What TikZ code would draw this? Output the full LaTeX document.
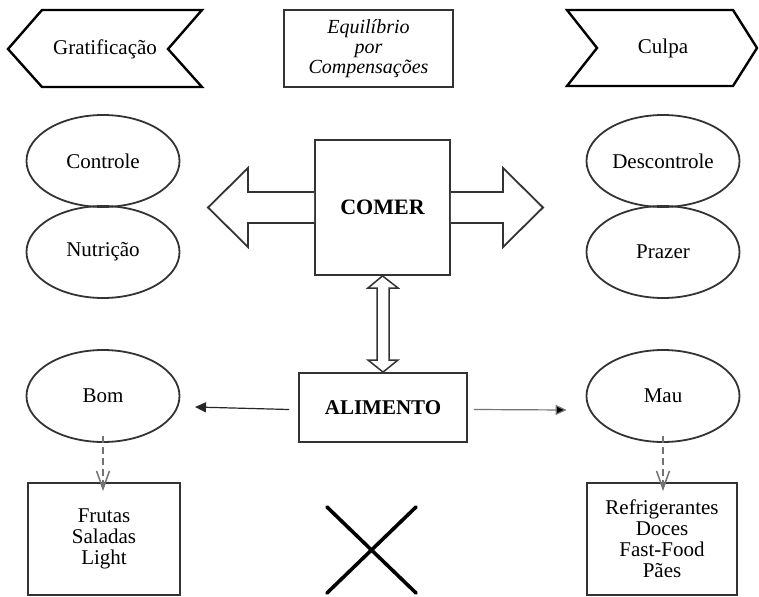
\documentclass[tikz,border=0pt]{standalone}
\usepackage{fontspec}
\setmainfont{Liberation Serif}
\usetikzlibrary{arrows.meta,shapes.geometric}
\begin{document}
\begin{tikzpicture}[x=1pt,y=-1pt,
  font=\fontsize{21}{21}\selectfont,
  outline/.style={draw=black!80, line width=1.8pt},
  chev/.style={draw=black, line width=2.4pt, line join=miter},
  oval/.style={ellipse, outline, minimum width=153pt, minimum height=92pt, inner sep=0pt},
  box/.style={rectangle, outline, inner sep=0pt, align=center},
  bigarrow/.style={draw=black!80, line width=1.8pt, fill=white, line join=miter},
  thinarrow/.style={line width=1.2pt, -{Triangle[length=11pt,width=10pt]}},
  dasharrow/.style={draw=black!55, line width=1.6pt, dash pattern=on 7pt off 4pt,
    -{Straight Barb[length=18pt,width=13pt,line width=1.5pt]}},
  cross/.style={line width=3.6pt, line cap=round}
]
\useasboundingbox (0,0) rectangle (759,596);

% top banners
\draw[chev] (42,10) -- (202,10) -- (168,49) -- (202,87) -- (42,87) -- (8,49) -- cycle;
\node (grat) at (105,49) {Gratificação};
\draw[chev] (567,10) -- (733,10) -- (757,48) -- (733,86) -- (567,86) -- (597,48) -- cycle;
\node (culpa) at (663,48) {Culpa};
\node[box, minimum width=169pt, minimum height=77pt,
      font=\fontsize{20}{20}\itshape] (equil) at (368.5,48.5)
  {Equilíbrio\\por\\Compensações};

% ellipses
\node[oval] (controle) at (103,161) {Controle};
\node[oval] (nutricao) at (103,252) {Nutrição};
\node[oval] (descontrole) at (663,161) {Descontrole};
\node[oval] (prazer) at (663,252) {Prazer};
\node[oval] (bom) at (103,396) {Bom};
\node[oval] (mau) at (663,396) {Mau};

% central boxes
\node[box, minimum width=135pt, minimum height=135pt,
      font=\fontsize{22}{22}\bfseries] (comer) at (382.5,207.5) {COMER};
\node[box, minimum width=168pt, minimum height=69pt,
      font=\fontsize{21}{21}\bfseries] (alimento) at (383,407.5) {ALIMENTO};

% food lists
\node[box, minimum width=152pt, minimum height=112pt] (frutas) at (104,539)
  {Frutas\\Saladas\\Light};
\node[box, minimum width=150pt, minimum height=112pt] (junk) at (662,539)
  {Refrigerantes\\Doces\\Fast-Food\\Pães};

% block arrows out of COMER
\draw[bigarrow] (comer.west |- 0,192) -- (248,192) -- (248,168) -- (208,207.5)
  -- (248,247) -- (248,223) -- (comer.west |- 0,223);
\draw[bigarrow] (comer.east |- 0,192) -- (503,192) -- (503,168) -- (543,207.5)
  -- (503,247) -- (503,223) -- (comer.east |- 0,223);

% two-headed arrow between COMER and ALIMENTO
\draw[bigarrow, line width=1.5pt] (comer.south) -- (368,288) -- (377,288) -- (377,360)
  -- (368,360) -- (alimento.north) -- (398,360) -- (389,360) -- (389,288)
  -- (398,288) -- cycle;

% thin arrows from ALIMENTO
\coordinate (bomtip) at (195,407);
\draw[thinarrow, draw=black!85] ([xshift=-9pt,yshift=-2pt]alimento.west) -- (bomtip);
\draw[thinarrow, draw=black!55, -{Triangle[length=11pt,width=10pt,fill=black]}]
  ([xshift=6pt,yshift=-2pt]alimento.east) -- ([xshift=-19pt]mau.west |- 0,410);

% dashed arrows down to the lists
\draw[dasharrow, shorten <=-7pt, shorten >=-9pt] (bom.south) -- (frutas.north -| bom.south);
\draw[dasharrow, shorten <=-7pt, shorten >=-9pt] (mau.south) -- (junk.north -| mau.south);

% cross
\draw[cross] (327,507) -- (416,593);
\draw[cross] (416,507) -- (327,593);
\end{tikzpicture}
\end{document}
